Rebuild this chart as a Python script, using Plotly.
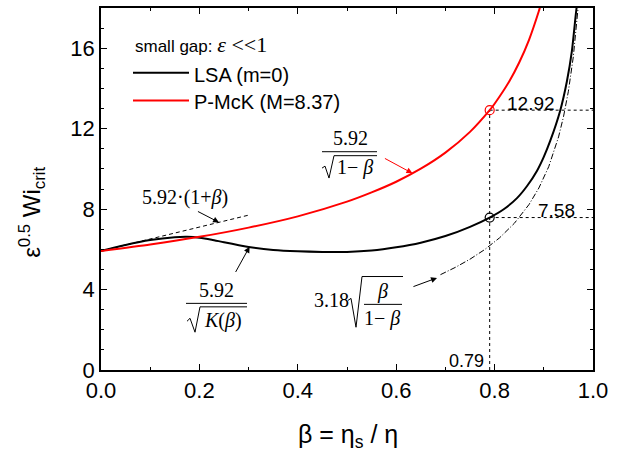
import plotly.graph_objects as go

# ---------------- data ----------------
beta_lsa = [0, 0.05, 0.1, 0.15, 0.175, 0.2, 0.225, 0.25, 0.3, 0.35, 0.4, 0.45, 0.5, 0.55,
            0.6, 0.65, 0.7, 0.75, 0.79, 0.82, 0.846, 0.866, 0.886, 0.9, 0.913, 0.933,
            0.947, 0.957, 0.965, 0.968]
wi_lsa = [5.92, 6.22, 6.46, 6.60, 6.62, 6.58, 6.48, 6.35, 6.12, 5.97, 5.90, 5.87, 5.87,
          5.94, 6.10, 6.33, 6.66, 7.12, 7.58, 8.02, 8.56, 9.15, 9.90, 10.60, 11.39, 12.87,
          14.36, 15.84, 17.67, 18.3]

beta_pmck = [0, 0.1, 0.2, 0.3, 0.4, 0.5, 0.55, 0.6, 0.65, 0.7, 0.75, 0.79, 0.8, 0.83,
             0.85, 0.87, 0.89, 0.893]
wi_pmck = [5.92, 6.24, 6.62, 7.08, 7.64, 8.37, 8.83, 9.36, 10.01, 10.81, 11.84, 12.92,
           13.24, 14.36, 15.29, 16.42, 17.85, 18.1]

beta_lin = [0.0, 0.3]
wi_lin = [5.92, 7.70]

beta_asym = [0.69, 0.72, 0.75, 0.78, 0.81, 0.84, 0.87, 0.89, 0.91, 0.93, 0.94, 0.95,
             0.96, 0.965, 0.97]
wi_asym = [4.74, 5.10, 5.51, 5.99, 6.57, 7.29, 8.23, 9.05, 10.11, 11.59, 12.59, 13.86,
           15.58, 16.70, 18.08]

beta_crit = 0.79
wi_crit_pmck = 12.92
wi_crit_lsa = 7.58

x_ticks = [0.0, 0.2, 0.4, 0.6, 0.8, 1.0]
x_ticklabels = ["0.0", "0.2", "0.4", "0.6", "0.8", "1.0"]
y_ticks = [0, 4, 8, 12, 16]
y_ticklabels = ["0", "4", "8", "12", "16"]

series_names = ["LSA (m=0)", "P-McK (M=8.37)"]
series_colors = ["black", "#ff0000"]

# ---------------- layout geometry ----------------
W, H = 622, 454
L, R, T, B = 101, 29, 6, 84
PW, PH = W - L - R, H - T - B


def P(px, py):
    """pixel position -> paper coordinates"""
    return (px - L) / PW, (H - B - py) / PH


SERIF = "Liberation Serif, Times New Roman, serif"
SANS = "Liberation Sans, Arial, sans-serif"

fig = go.Figure()

# dotted guide lines
fig.add_trace(go.Scatter(x=[beta_crit, beta_crit], y=[0, wi_crit_pmck], mode="lines",
                         line=dict(color="black", width=1, dash="dot"), showlegend=False))
fig.add_trace(go.Scatter(x=[beta_crit, 1.0], y=[wi_crit_pmck, wi_crit_pmck], mode="lines",
                         line=dict(color="black", width=1, dash="dot"), showlegend=False))
fig.add_trace(go.Scatter(x=[beta_crit, 1.0], y=[wi_crit_lsa, wi_crit_lsa], mode="lines",
                         line=dict(color="black", width=1, dash="dot"), showlegend=False))

# asymptotes
fig.add_trace(go.Scatter(x=beta_lin, y=wi_lin, mode="lines",
                         line=dict(color="black", width=1, dash="4px,3px"), showlegend=False))
fig.add_trace(go.Scatter(x=beta_asym, y=wi_asym, mode="lines",
                         line=dict(color="black", width=1, dash="6px,2px,1px,2px"),
                         showlegend=False))

# main curves
fig.add_trace(go.Scatter(x=beta_lsa, y=wi_lsa, mode="lines", name=series_names[0],
                         showlegend=False,
                         line=dict(color=series_colors[0], width=2, shape="spline",
                                   smoothing=0.6)))
fig.add_trace(go.Scatter(x=beta_pmck, y=wi_pmck, mode="lines", name=series_names[1],
                         showlegend=False,
                         line=dict(color=series_colors[1], width=2, shape="spline",
                                   smoothing=0.6)))

# critical markers
fig.add_trace(go.Scatter(x=[beta_crit], y=[wi_crit_pmck], mode="markers",
                         marker=dict(symbol="circle-open", size=9, color="#ff0000",
                                     line=dict(width=1.2)), showlegend=False))
fig.add_trace(go.Scatter(x=[beta_crit], y=[wi_crit_lsa], mode="markers",
                         marker=dict(symbol="circle-open", size=9, color="black",
                                     line=dict(width=1.2)), showlegend=False))

annotations = []
shapes = []


def text(px, py, s, size=19, family=SERIF, color="black", xanchor="center"):
    x, y = P(px, py)
    annotations.append(dict(x=x, y=y, xref="paper", yref="paper", text=s, showarrow=False,
                            xanchor=xanchor, yanchor="middle",
                            font=dict(family=family, size=size, color=color)))


def seg(points, color="black", width=1):
    pts = [P(a, b) for a, b in points]
    path = "M " + " L ".join(f"{x},{y}" for x, y in pts)
    shapes.append(dict(type="path", path=path, xref="paper", yref="paper",
                       line=dict(color=color, width=width)))


def arrow(x0, y0, x1, y1, color="black"):
    annotations.append(dict(x=x1, y=y1, ax=x0, ay=y0, xref="x", yref="y",
                            axref="x", ayref="y", text="", showarrow=True,
                            arrowhead=2, arrowsize=1.2, arrowwidth=1, arrowcolor=color))


# legend (drawn by hand to match the original spacing)
text(133, 43, 'small gap: <span style="font-family:Liberation Serif;font-size:22px">'
              '<i>ε</i> &lt;&lt;1</span>', size=17, family=SANS, xanchor="left")
for i, (nm, col) in enumerate(zip(series_names, series_colors)):
    yy = 71 + 28 * i
    seg([(133, yy), (189, yy)], color=col, width=2)
    text(192, yy + 2, nm, size=20, family=SANS, xanchor="left")

# 5.92·(1+β)
text(185, 197, "5.92·(1+<i>β</i>)", size=20)
arrow(0.194, 7.92, 0.240, 7.34)

# 5.92 / sqrt(K(β))
text(216, 290, "5.92", size=20)
seg([(186, 303), (247, 303)])
seg([(187, 321), (190, 318), (195, 332), (200, 306.5), (247, 306.5)])
text(223, 320, "<i>K</i>(<i>β</i>)", size=20)
arrow(0.272, 4.80, 0.302, 6.13)

# 5.92 / sqrt(1-β)
text(350, 137, "5.92", size=20)
seg([(322, 150.5), (377, 150.5)])
seg([(322, 167), (325, 165), (329, 177), (334, 154.5), (377, 154.5)])
text(355, 166, "1− <i>β</i>", size=20)
arrow(0.574, 10.56, 0.633, 9.78, color="#ff0000")

# 3.18 sqrt(β/(1-β))
text(331, 300, "3.18", size=20)
seg([(348, 300), (351, 298), (356, 327), (362, 276), (403, 276)])
text(382, 291, "<i>β</i>", size=20)
seg([(364, 304), (402, 304)])
text(382, 318, "1− <i>β</i>", size=20)
arrow(0.632, 4.12, 0.683, 4.58)

# numeric labels
text(531, 102, "12.92", size=19, family=SANS)
text(556, 210, "7.58", size=19, family=SANS)
text(466, 361, "0.79", size=18, family=SANS)

# axis titles
xt, yt = P(348, 436)
annotations.append(dict(x=xt, y=yt, xref="paper", yref="paper", showarrow=False,
                        text="β = η<sub>s</sub> / η", xanchor="center", yanchor="middle",
                        font=dict(family=SANS, size=25, color="black")))
xt, yt = P(32, 212)
annotations.append(dict(x=xt, y=yt, xref="paper", yref="paper", showarrow=False,
                        text="ε<sup>0.5</sup> Wi<sub>crit</sub>", textangle=-90,
                        xanchor="center", yanchor="middle",
                        font=dict(family=SANS, size=24, color="black")))

fig.update_layout(
    width=W, height=H,
    margin=dict(l=L, r=R, t=T, b=B),
    paper_bgcolor="white", plot_bgcolor="white",
    font=dict(family=SANS, color="black"),
    showlegend=False,
    xaxis=dict(range=[0, 1.0], tickvals=x_ticks, ticktext=x_ticklabels,
               ticks="inside", ticklen=6, tickwidth=1, tickcolor="black",
               showline=True, linecolor="black", linewidth=1.5, mirror="allticks",
               showgrid=False, zeroline=False,
               tickfont=dict(family=SANS, size=22, color="black"),
               minor=dict(dtick=0.1, ticks="inside", ticklen=3, tickcolor="black",
                          showgrid=False)),
    yaxis=dict(range=[0, 18], tickvals=y_ticks, ticktext=y_ticklabels,
               ticks="inside", ticklen=6, tickwidth=1, tickcolor="black",
               showline=True, linecolor="black", linewidth=1.5, mirror="allticks",
               showgrid=False, zeroline=False,
               tickfont=dict(family=SANS, size=22, color="black"),
               minor=dict(dtick=1, ticks="inside", ticklen=3, tickcolor="black",
                          showgrid=False)),
    annotations=annotations,
    shapes=shapes,
)

fig.write_html("out.html", config={"displayModeBar": False},
               post_script="document.body.style.margin='0px';")
